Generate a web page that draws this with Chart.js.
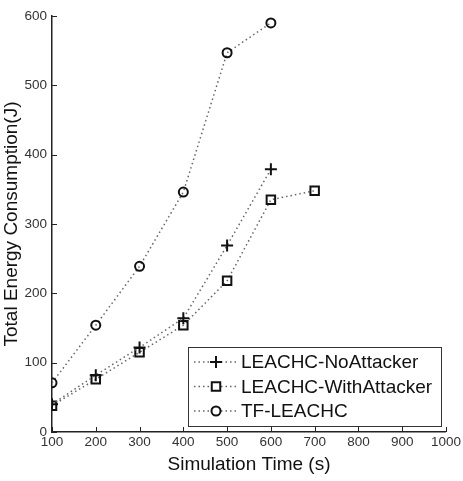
<!DOCTYPE html>
<html>
<head>
<meta charset="utf-8">
<script src="https://cdn.jsdelivr.net/npm/chart.js@4"></script>
<style>
    html, body { margin: 0; padding: 0; background: #fff; }
    #wrap { width: 463px; height: 481px; }
</style>
</head>
<body>
<div id="wrap"><canvas id="energy-chart" width="463" height="481"></canvas></div>
<script>
const simTimes = [100, 200, 300, 400, 500, 600, 700];
const noAttacker = [40, 82, 122, 164, 269, 379];
const withAttacker = [38, 76, 115, 154, 218, 335, 348];
const tfLeachc = [71, 154, 239, 346, 547, 590];
const seriesLabels = ['LEACHC-NoAttacker', 'LEACHC-WithAttacker', 'TF-LEACHC'];
const xTicks = [100, 200, 300, 400, 500, 600, 700, 800, 900, 1000];
const yTicks = [0, 100, 200, 300, 400, 500, 600];

const toPoints = vals => vals.map((v, i) => ({ x: simTimes[i], y: v }));
const lineColor = '#666666';
const fontFamily = '"Liberation Sans", Arial, sans-serif';

// Inward tick marks like MATLAB axes
const innerTicks = {
    id: 'innerTicks',
    afterDraw(chart) {
        const { ctx, chartArea, scales } = chart;
        ctx.save();
        ctx.strokeStyle = '#222';
        ctx.lineWidth = 1;
        ctx.beginPath();
        xTicks.forEach(t => {
            const px = Math.round(scales.x.getPixelForValue(t)) + 0.5;
            ctx.moveTo(px, chartArea.bottom);
            ctx.lineTo(px, chartArea.bottom - 5);
        });
        yTicks.forEach(t => {
            const py = Math.round(scales.y.getPixelForValue(t)) + 0.5;
            ctx.moveTo(chartArea.left, py);
            ctx.lineTo(chartArea.left + 5, py);
        });
        ctx.stroke();
        ctx.restore();
    }
};

// Legend box drawn inside the plot area, bottom right
const boxLegend = {
    id: 'boxLegend',
    afterDraw(chart) {
        const { ctx } = chart;
        const left = 188, top = 347, right = 441, bottom = 426;
        const rowH = 24.5;
        ctx.save();
        ctx.fillStyle = '#fff';
        ctx.fillRect(left, top, right - left, bottom - top);
        ctx.strokeStyle = '#333';
        ctx.lineWidth = 1;
        ctx.strokeRect(left + 0.5, top + 0.5, right - left, bottom - top);
        chart.data.datasets.forEach((ds, i) => {
            const cy = top + 15 + i * rowH;
            ctx.strokeStyle = lineColor;
            ctx.lineWidth = 1.5;
            ctx.setLineDash([1.5, 3]);
            ctx.beginPath();
            ctx.moveTo(left + 6, cy);
            ctx.lineTo(left + 50, cy);
            ctx.stroke();
            ctx.setLineDash([]);
            ctx.strokeStyle = '#111';
            ctx.fillStyle = '#fff';
            ctx.lineWidth = 2;
            Chart.helpers.drawPoint(ctx, {
                pointStyle: ds.pointStyle,
                radius: ds.pointRadius,
                borderWidth: 2,
                rotation: 0
            }, left + 28, cy);
            ctx.fillStyle = '#111';
            ctx.font = '19px ' + fontFamily;
            ctx.textBaseline = 'middle';
            ctx.fillText(ds.label, left + 53, cy + 1);
        });
        ctx.restore();
    }
};

function makeDataset(label, vals, style, radius) {
    return {
        label: label,
        data: toPoints(vals),
        borderColor: lineColor,
        borderWidth: 1.5,
        borderDash: [1.5, 3],
        pointStyle: style,
        pointRadius: radius,
        pointBorderColor: '#111',
        pointBackgroundColor: 'rgba(0,0,0,0)',
        pointBorderWidth: 2,
        tension: 0
    };
}

new Chart(document.getElementById('energy-chart'), {
    type: 'line',
    data: {
        datasets: [
            makeDataset(seriesLabels[0], noAttacker, 'cross', 6),
            makeDataset(seriesLabels[1], withAttacker, 'rect', 6),
            makeDataset(seriesLabels[2], tfLeachc, 'circle', 4.5)
        ]
    },
    plugins: [innerTicks, boxLegend],
    options: {
        responsive: false,
        animation: false,
        events: [],
        layout: { padding: { left: 0, right: 16, top: 16, bottom: 0 } },
        plugins: {
            legend: { display: false },
            tooltip: { enabled: false }
        },
        scales: {
            x: {
                type: 'linear',
                min: 100,
                max: 1000,
                afterFit: scale => { scale.height = 49; },
                afterBuildTicks: scale => { scale.ticks = xTicks.map(v => ({ value: v })); },
                border: { display: true, color: '#222', width: 1.5 },
                grid: { display: false, drawTicks: false },
                ticks: {
                    color: '#333',
                    padding: 2,
                    maxRotation: 0,
                    callback: v => String(v),
                    font: { family: fontFamily, size: 13.5 }
                },
                title: {
                    display: true,
                    text: 'Simulation Time (s)',
                    color: '#111',
                    padding: { top: 0, bottom: 5 },
                    font: { family: fontFamily, size: 19 }
                }
            },
            y: {
                min: 0,
                max: 600,
                afterFit: scale => { scale.width = 52; },
                afterBuildTicks: scale => { scale.ticks = yTicks.map(v => ({ value: v })); },
                border: { display: true, color: '#222', width: 1.5 },
                grid: { display: false, drawTicks: false },
                ticks: {
                    color: '#333',
                    padding: 5,
                    callback: v => String(v),
                    font: { family: fontFamily, size: 13.5 }
                },
                title: {
                    display: true,
                    text: 'Total Energy Consumption(J)',
                    color: '#111',
                    padding: { top: 0, bottom: 2 },
                    font: { family: fontFamily, size: 19 }
                }
            }
        }
    }
});
</script>
</body>
</html>
